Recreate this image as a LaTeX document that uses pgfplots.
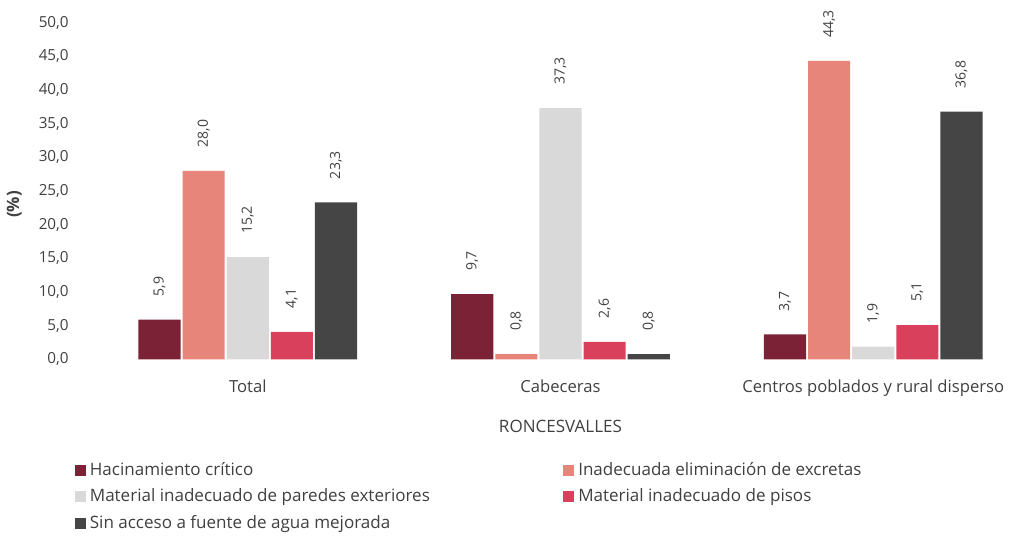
\documentclass[border=0pt]{standalone}
\usepackage{pgfplots}
\pgfplotsset{compat=1.18}
\usepackage{fontspec}
\setmainfont{Open Sans}

\definecolor{hacin}{HTML}{7B2236}
\definecolor{excr}{HTML}{E8857B}
\definecolor{pared}{HTML}{D9D9D9}
\definecolor{pisos}{HTML}{D8405C}
\definecolor{agua}{HTML}{454545}
\definecolor{txt}{HTML}{404040}

\begin{document}
\begin{tikzpicture}
\begin{axis}[
    scale only axis,
    width=468pt, height=168pt,
    ybar=1pt, bar width=21pt,
    xmin=-0.55, xmax=2.45,
    ymin=0, ymax=50,
    ytick={0,5,...,50},
    xtick=data,
    xticklabels={Total,Cabeceras,Centros poblados y rural disperso},
    axis line style={draw=none},
    major tick style={draw=none},
    clip=false,
    font=\fontsize{8.5}{10}\selectfont\color{txt},
    ticklabel style={font=\fontsize{8.3}{10}\selectfont\color{txt}},
    x tick label style={yshift=-2.5pt},
    y tick label style={font=\fontsize{7.6}{9}\selectfont\color{txt}, /pgf/number format/.cd, use comma, fixed, fixed zerofill, precision=1, assume math mode=true},
    ylabel={\textbf{(\%)}},
    ylabel style={font=\fontsize{8.5}{10}\selectfont\color{txt}, at={(axis description cs:-0.05,0.46)}},
    nodes near coords={\pgfmathprintnumber[use comma, fixed, fixed zerofill, precision=1, assume math mode=true]{\pgfplotspointmeta}},
    every node near coord/.append style={rotate=90, anchor=west, xshift=6.5pt, inner sep=5pt, font=\fontsize{7}{8}\selectfont\color{txt}},
    legend columns=2,
    legend cell align=left,
    legend style={draw=none, at={(-0.008,-0.28)}, anchor=north west, font=\fontsize{8.5}{10}\selectfont\color{txt}, row sep=1.3pt},
    legend image code/.code={\fill[#1] (0pt,-2.8pt) rectangle (5.6pt,2.8pt);},
]
\addplot[fill=hacin, draw=none] coordinates {(0,5.9) (1,9.7) (2,3.7)};
\addplot[fill=excr, draw=none] coordinates {(0,28.0) (1,0.8) (2,44.3)};
\addplot[fill=pared, draw=none] coordinates {(0,15.2) (1,37.3) (2,1.9)};
\addplot[fill=pisos, draw=none] coordinates {(0,4.1) (1,2.6) (2,5.1)};
\addplot[fill=agua, draw=none] coordinates {(0,23.3) (1,0.8) (2,36.8)};
\legend{\makebox[234pt][l]{Hacinamiento crítico},Inadecuada eliminación de excretas,\makebox[234pt][l]{Material inadecuado de paredes exteriores},Material inadecuado de pisos,\makebox[234pt][l]{Sin acceso a fuente de agua mejorada}}
\node[font=\fontsize{8.5}{10}\selectfont\color{txt}] at (axis cs:1,0) [yshift=-33.5pt] {RONCESVALLES};
\path (rel axis cs:0,1) -- ++(0,11pt);
\end{axis}
\end{tikzpicture}
\end{document}
